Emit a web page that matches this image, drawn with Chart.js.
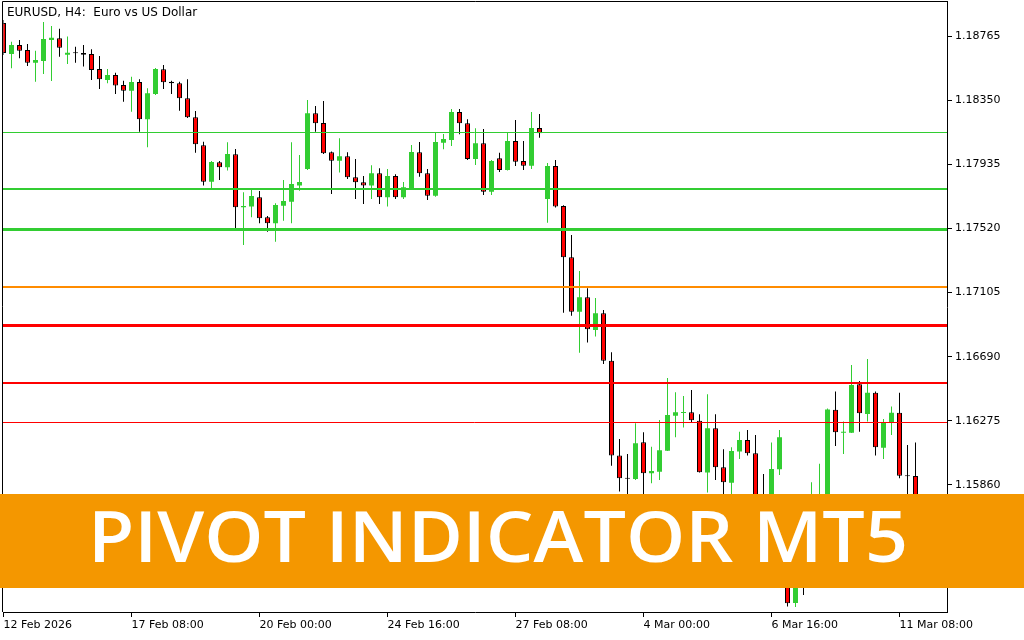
<!DOCTYPE html>
<html>
<head>
<meta charset="utf-8">
<title>EURUSD H4 - Pivot Indicator MT5</title>
<script src="https://cdn.jsdelivr.net/npm/chart.js@4.4.1/dist/chart.umd.min.js"></script>
<style>
  html, body { margin: 0; padding: 0; background: #fff; }
  #wrap { position: relative; width: 1024px; height: 640px; }
</style>
</head>
<body>
<div id="wrap"><canvas id="chart"></canvas></div>
<script>
// H4 candles, 12 Feb 16:00 .. 11 Mar 16:00 (index 0..114)
const opens = [
  1.18849,1.18649,1.18707,1.18675,1.18592,1.18603,1.18739,1.18750,1.18644,1.18657,
  1.18655,1.18649,1.18552,1.18480,1.18513,1.18448,1.18411,1.18468,1.18226,1.18390,
  1.18550,1.18469,1.18459,1.18362,1.18239,1.18058,1.17822,1.17948,1.17916,1.18000,
  1.17657,1.17661,1.17722,1.17592,1.17553,1.17667,1.17693,1.17797,1.17905,1.18265,
  1.18202,1.18013,1.17958,1.17987,1.17851,1.17819,1.17797,1.17877,1.17722,1.17859,
  1.17722,1.17780,1.18013,1.17877,1.17732,1.18075,1.18092,1.18273,1.18200,1.17969,
  1.18071,1.17758,1.17974,1.17898,1.18086,1.17956,1.17926,1.18170,1.17711,1.17924,
  1.17665,1.17333,1.16981,1.17075,1.16863,1.16971,1.16664,1.16050,1.15905,1.15899,
  1.16136,1.15936,1.15946,1.16082,1.16308,1.16326,1.16330,1.16276,1.15940,1.16227,
  1.15975,1.15875,1.16076,1.16151,1.16065,1.15685,1.15569,1.15962,1.15504,1.15097,
  1.15342,1.15278,1.15601,1.15731,1.16347,1.16198,1.16198,1.16512,1.16319,1.16457,
  1.16101,1.16263,1.16328,1.15920,1.15918
];
const highs = [
  1.18869,1.18728,1.18739,1.18713,1.18670,1.18856,1.18830,1.18812,1.18761,1.18696,
  1.18707,1.18679,1.18636,1.18552,1.18528,1.18476,1.18502,1.18485,1.18427,1.18558,
  1.18577,1.18476,1.18469,1.18485,1.18280,1.18081,1.17956,1.17956,1.18077,1.18034,
  1.17754,1.17769,1.17762,1.17600,1.17683,1.17833,1.18077,1.17995,1.18351,1.18312,
  1.18345,1.18018,1.18103,1.18013,1.17969,1.17859,1.17929,1.17909,1.17905,1.17870,
  1.17820,1.18060,1.18079,1.17905,1.18139,1.18131,1.18293,1.18293,1.18226,1.18168,
  1.18163,1.17963,1.18010,1.18139,1.18222,1.18086,1.18273,1.18260,1.17943,1.17963,
  1.17670,1.17478,1.17245,1.17133,1.17070,1.16992,1.16719,1.16158,1.16061,1.16259,
  1.16201,1.16108,1.16281,1.16552,1.16460,1.16436,1.16475,1.16318,1.16447,1.16318,
  1.16091,1.16104,1.16205,1.16216,1.16184,1.15931,1.16134,1.16216,1.15569,1.15407,
  1.15440,1.15877,1.15998,1.16354,1.16464,1.16270,1.16636,1.16533,1.16675,1.16464,
  1.16287,1.16367,1.16457,1.16119,1.16134
];
const lows = [
  1.18642,1.18556,1.18621,1.18571,1.18469,1.18519,1.18474,1.18631,1.18584,1.18592,
  1.18567,1.18480,1.18422,1.18459,1.18390,1.18340,1.18275,1.18146,1.18045,1.18383,
  1.18422,1.18390,1.18282,1.18235,1.18010,1.17797,1.17780,1.17833,1.17894,1.17521,
  1.17413,1.17592,1.17553,1.17499,1.17434,1.17570,1.17553,1.17764,1.17898,1.18146,
  1.18002,1.17743,1.17881,1.17840,1.17711,1.17678,1.17711,1.17678,1.17661,1.17711,
  1.17711,1.17775,1.17855,1.17704,1.17725,1.18032,1.18053,1.18129,1.17963,1.17930,
  1.17736,1.17736,1.17885,1.17895,1.17924,1.17898,1.17905,1.18107,1.17557,1.17655,
  1.16975,1.16955,1.16716,1.16781,1.16820,1.16643,1.15985,1.15817,1.15776,1.15892,
  1.15776,1.15871,1.15892,1.16080,1.16169,1.16231,1.16264,1.15940,1.15811,1.15892,
  1.15750,1.15763,1.16028,1.16050,1.15666,1.15472,1.15504,1.15925,1.15073,1.15071,
  1.15148,1.15213,1.15569,1.15685,1.16112,1.16061,1.16196,1.16205,1.16270,1.16050,
  1.16028,1.16184,1.15903,1.15731,1.15698
];
const closes = [
  1.18655,1.18707,1.18670,1.18592,1.18610,1.18746,1.18754,1.18689,1.18657,1.18653,
  1.18644,1.18545,1.18485,1.18513,1.18444,1.18411,1.18468,1.18226,1.18394,1.18552,
  1.18466,1.18459,1.18362,1.18239,1.18064,1.17822,1.17950,1.17916,1.18002,1.17657,
  1.17665,1.17730,1.17586,1.17553,1.17672,1.17697,1.17807,1.17820,1.18265,1.18200,
  1.18006,1.17958,1.17987,1.17851,1.17819,1.17797,1.17877,1.17722,1.17859,1.17722,
  1.17786,1.18015,1.17877,1.17732,1.18079,1.18099,1.18273,1.18200,1.17969,1.18071,
  1.17758,1.17956,1.17898,1.18086,1.17952,1.17926,1.18170,1.18136,1.17924,1.17661,
  1.17333,1.16981,1.17075,1.16867,1.16971,1.16664,1.16050,1.15903,1.15900,1.16130,
  1.15936,1.15951,1.16085,1.16313,1.16330,1.16330,1.16279,1.15942,1.16227,1.15975,
  1.15877,1.16080,1.16151,1.16065,1.15698,1.15537,1.15964,1.16169,1.15095,1.15342,
  1.15245,1.15601,1.15731,1.16349,1.16201,1.16201,1.16507,1.16324,1.16457,1.16104,
  1.16268,1.16328,1.15920,1.15916,1.15763
];

// pivot levels (top to bottom)
const pivotLevels = [1.18143, 1.17778, 1.17514, 1.17141, 1.16889, 1.16520, 1.16261];
const pivotColors = ['#32CD32', '#32CD32', '#32CD32', '#FF8C00', '#FF0000', '#FF0000', '#FF0000'];
const pivotWidths = [1, 2, 3, 2, 3, 2, 1];

// axes
const xTickIdx = [0, 16, 32, 48, 64, 80, 96, 112];
const xTickLabels = ['12 Feb 2026', '17 Feb 08:00', '20 Feb 00:00', '24 Feb 16:00',
                     '27 Feb 08:00', '4 Mar 00:00', '6 Mar 16:00', '11 Mar 08:00'];
const priceTicks = [1.15860, 1.16275, 1.16690, 1.17105, 1.17520, 1.17935, 1.18350, 1.18765];
const yMin = 1.15038, yMax = 1.18985;
const xMax = 117.9375;

const titleText = 'EURUSD, H4:  Euro vs US Dollar';
const bannerText = 'PIVOT INDICATOR MT5';

const GREEN = '#32CD32', RED = '#FF0000', BLACK = '#000000';
const bull = closes.map((c, i) => c >= opens[i]);

const bodies = opens.map((o, i) => ({x: i, y: [o, closes[i]]}));
const wicks = lows.map((l, i) => ({x: i, y: [l, highs[i]]}));

// pivot lines + left/top edge of the frame (right/bottom come from the axes)
const levels = {
  id: 'levels',
  afterDatasetsDraw(chart) {
    const {ctx, chartArea: a, scales} = chart;
    ctx.save();
    const lx = Math.floor(a.left) - 0.5;
    pivotLevels.forEach((lvl, k) => {
      const w = pivotWidths[k];
      let y = scales.y.getPixelForValue(lvl);
      y = w % 2 ? Math.round(y - 0.5) + 0.5 : Math.round(y);
      ctx.strokeStyle = pivotColors[k];
      ctx.lineWidth = w;
      ctx.beginPath();
      ctx.moveTo(lx, y);
      ctx.lineTo(a.right, y);
      ctx.stroke();
    });
    ctx.strokeStyle = '#000';
    ctx.lineWidth = 1;
    ctx.beginPath();
    const ty = a.top - 0.5;
    ctx.moveTo(lx, a.bottom);
    ctx.lineTo(lx, ty);
    ctx.lineTo(a.right + 1, ty);
    ctx.stroke();
    ctx.restore();
  }
};

const overlay = {
  id: 'overlay',
  afterDraw(chart) {
    const ctx = chart.ctx;
    ctx.save();
    ctx.fillStyle = '#000';
    ctx.font = '12px "DejaVu Sans"';
    ctx.textAlign = 'left';
    ctx.textBaseline = 'middle';
    ctx.fillText(titleText, 7, 13);

    // banner
    ctx.fillStyle = '#F49700';
    ctx.fillRect(0, 494, chart.width, 94);
    ctx.font = '600 70px "Open Sans"';
    const w = ctx.measureText(bannerText).width;
    ctx.translate(498, 562);
    ctx.scale(820 / w, 1);
    ctx.fillStyle = '#fff';
    ctx.textAlign = 'center';
    ctx.textBaseline = 'alphabetic';
    ctx.fillText(bannerText, 0, 0);
    ctx.restore();
  }
};

new Chart(document.getElementById('chart'), {
  type: 'bar',
  data: {
    datasets: [
      {
        label: 'body',
        data: bodies,
        backgroundColor: bull.map(b => b ? GREEN : RED),
        borderColor: bull.map(b => b ? GREEN : BLACK),
        borderWidth: bull.map(b => b ? 0 : 1),
        barThickness: 5,
        order: 1
      },
      {
        label: 'wick',
        data: wicks,
        backgroundColor: bull.map(b => b ? GREEN : BLACK),
        borderWidth: 0,
        barThickness: 1,
        order: 2
      }
    ]
  },
  options: {
    responsive: true,
    maintainAspectRatio: false,
    animation: false,
    layout: {padding: {left: 3.5, top: 2, right: 0, bottom: 0}},
    datasets: {
      bar: {grouped: false, borderSkipped: false, inflateAmount: 0, minBarLength: 1, clip: 0}
    },
    plugins: {legend: {display: false}, tooltip: {enabled: false}},
    scales: {
      x: {
        type: 'linear',
        min: 0,
        max: xMax,
        offset: false,
        afterBuildTicks: s => { s.ticks = xTickIdx.map(v => ({value: v})); },
        afterFit: s => { s.height = 28; s.paddingLeft = 0; s.paddingRight = 0; },
        grid: {offset: false, drawOnChartArea: false, color: '#000', tickLength: 5},
        border: {display: true, color: '#000'},
        ticks: {
          align: 'start', maxRotation: 0, autoSkip: false, padding: 2, color: '#000',
          font: {family: 'DejaVu Sans', size: 11},
          callback: (v, i) => xTickLabels[i]
        }
      },
      y: {
        position: 'right',
        min: yMin,
        max: yMax,
        afterBuildTicks: s => { s.ticks = priceTicks.map(v => ({value: v})); },
        afterFit: s => { s.width = 77; s.paddingTop = 0; s.paddingBottom = 0; },
        grid: {drawOnChartArea: false, color: '#000', tickLength: 5},
        border: {display: true, color: '#000'},
        ticks: {
          padding: 3, color: '#000',
          font: {family: 'DejaVu Sans', size: 11},
          callback: v => v.toFixed(5)
        }
      }
    }
  },
  plugins: [levels, overlay]
});
</script>
</body>
</html>
